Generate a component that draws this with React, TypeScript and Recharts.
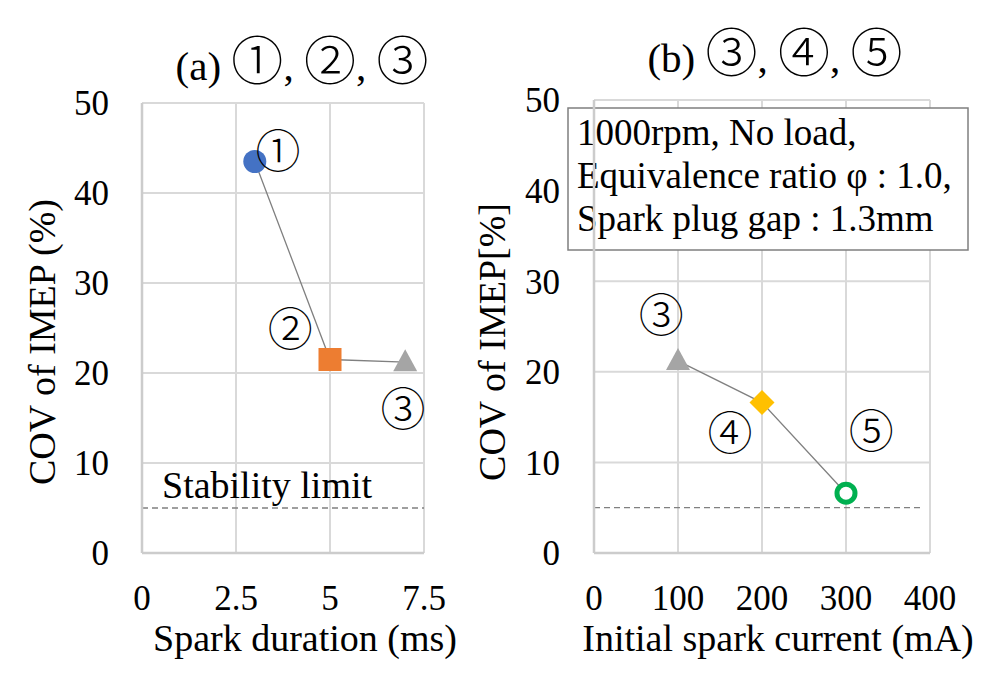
import { LineChart, Line, XAxis, YAxis, CartesianGrid, ReferenceLine, ReferenceDot, Customized } from 'recharts'

const SERIF = '"Liberation Serif", "Noto Sans CJK JP", serif'
const CIRCLED = '"Noto Sans CJK JP", "DejaVu Sans", sans-serif'

// (a) spark duration sweep: cases 1, 2, 3
const durationMs = [3, 5, 7]
const covA = [43.5, 21.5, 21.2]
const markersA = ['circle', 'square', 'triangle']
const xTicksA = [0, 2.5, 5, 7.5]
const tagsA = [
  { x: 3.62, y: 44.6, text: '①' },
  { x: 3.94, y: 24.8, text: '②' },
  { x: 6.94, y: 15.9, text: '③' },
]

// (b) initial spark current sweep: cases 3, 4, 5
const currentMa = [100, 200, 300]
const covB = [21.2, 16.6, 6.6]
const markersB = ['triangle', 'diamond', 'ring']
const xTicksB = [0, 100, 200, 300, 400]
const tagsB = [
  { x: 80, y: 26.2, text: '③' },
  { x: 162, y: 13.1, text: '④' },
  { x: 330, y: 13.4, text: '⑤' },
]

const yTicks = [0, 10, 20, 30, 40, 50]
const stabilityLimit = 5
const conditions = ['1000rpm, No load,', 'Equivalence ratio φ : 1.0,', 'Spark plug gap : 1.3mm']

const dataA = durationMs.map((x, i) => ({ x, cov: covA[i], marker: markersA[i] }))
const dataB = currentMa.map((x, i) => ({ x, cov: covB[i], marker: markersB[i] }))

const GRID = '#d9d9d9'
const tickStyle = { fill: '#000', fontSize: 35, fontFamily: SERIF }

function Marker({ cx, cy, kind }: { cx: number; cy: number; kind: string }) {
  if (cx == null || cy == null) return null
  switch (kind) {
    case 'circle':
      return <circle cx={cx} cy={cy} r={11.5} fill="#4472C4" />
    case 'square':
      return <rect x={cx - 11.5} y={cy - 11.5} width={23} height={23} fill="#ED7D31" />
    case 'triangle':
      return <polygon points={`${cx},${cy - 13} ${cx - 12},${cy + 9} ${cx + 12},${cy + 9}`} fill="#A5A5A5" />
    case 'diamond':
      return <polygon points={`${cx},${cy - 12.5} ${cx + 12.5},${cy} ${cx},${cy + 12.5} ${cx - 12.5},${cy}`} fill="#FFC000" />
    default:
      return <circle cx={cx} cy={cy} r={9} fill="#fff" stroke="#00B050" strokeWidth={5} />
  }
}

const renderDot = (props: any) => (
  <Marker key={`m-${props.index}`} cx={props.cx} cy={props.cy} kind={props.payload.marker} />
)

const stabilityLabel = (props: any) => {
  const vb = props.viewBox || {}
  return (
    <text x={vb.x + 20} y={vb.y - 10} fontSize={38} fontFamily={SERIF} fill="#000">
      Stability limit
    </text>
  )
}

function Title({ x, y, prefix, nums }: { x: number; y: number; prefix: string; nums: string[] }) {
  return (
    <text x={x} y={y} fontSize={41} textAnchor="middle" fontFamily={SERIF} fill="#000">
      {prefix}
      {nums.map((n, i) => (
        <tspan key={n}>
          <tspan fontFamily={CIRCLED} fontSize={52} fontWeight={300}>{n}</tspan>
          {i < nums.length - 1 ? ', ' : ''}
        </tspan>
      ))}
    </text>
  )
}

function Texts({ title, titleX, titleY, yTitle, yTitleX, xTitle, xTitleX, box }: any) {
  return (
    <g fontFamily={SERIF} fill="#000">
      <Title x={titleX} y={titleY} prefix={title.prefix} nums={title.nums} />
      <text
        x={yTitleX}
        y={342}
        fontSize={38}
        textAnchor="middle"
        dominantBaseline="central"
        transform={`rotate(-90, ${yTitleX}, 342)`}
      >
        {yTitle}
      </text>
      <text x={xTitleX} y={651} fontSize={38} textAnchor="middle">{xTitle}</text>
      {box && (
        <g>
          <rect x={108} y={108} width={400} height={142} fill="#fff" stroke="#7f7f7f" strokeWidth={1.5} />
          {conditions.map((line, i) => (
            <text key={line} x={117} y={145 + i * 43} fontSize={37}>{line}</text>
          ))}
        </g>
      )}
    </g>
  )
}

const tagLabel = (text: string) => ({
  value: text,
  position: 'center' as const,
  fontSize: 45,
  fontWeight: 300,
  fontFamily: CIRCLED,
  fill: '#000',
})

export default function App() {
  return (
    <div style={{ position: 'absolute', left: 0, top: 0, width: 1000, height: 675, background: '#fff' }}>
      <div style={{ position: 'absolute', left: 0, top: 0 }}>
        <LineChart width={470} height={675} data={dataA} margin={{ top: 103, right: 46, bottom: 0, left: 0 }}>
          <CartesianGrid stroke={GRID} strokeWidth={2} />
          <XAxis
            type="number"
            dataKey="x"
            domain={[0, 7.5]}
            ticks={xTicksA}
            height={122}
            tickSize={0}
            tickMargin={32}
            tickLine={false}
            axisLine={{ stroke: '#cccccc', strokeWidth: 2.5 }}
            tick={tickStyle}
          />
          <YAxis
            type="number"
            domain={[0, 50]}
            ticks={yTicks}
            width={142}
            tickSize={0}
            tickMargin={33}
            tickLine={false}
            axisLine={{ stroke: '#cccccc', strokeWidth: 2.5 }}
            tick={tickStyle}
          />
          <ReferenceLine y={stabilityLimit} stroke="#808080" strokeWidth={1.3} strokeDasharray="6 4" label={stabilityLabel} />
          <Line
            dataKey="cov"
            type="linear"
            stroke="#808080"
            strokeWidth={1.3}
            dot={renderDot}
            activeDot={false}
            isAnimationActive={false}
          />
          {tagsA.map((t) => (
            <ReferenceDot key={t.text} x={t.x} y={t.y} r={1} fill="none" stroke="none" label={tagLabel(t.text)} />
          ))}
          <Customized
            component={
              <Texts
                title={{ prefix: '(a) ', nums: ['①', '②', '③'] }}
                titleX={302}
                titleY={80}
                yTitle="COV of IMEP (%)"
                yTitleX={42}
                xTitle="Spark duration (ms)"
                xTitleX={305}
              />
            }
          />
        </LineChart>
      </div>
      <div style={{ position: 'absolute', left: 460, top: 0 }}>
        <LineChart width={540} height={675} data={dataB} margin={{ top: 100, right: 70, bottom: 0, left: 0 }}>
          <CartesianGrid stroke={GRID} strokeWidth={2} />
          <XAxis
            type="number"
            dataKey="x"
            domain={[0, 400]}
            ticks={xTicksB}
            height={122}
            tickSize={0}
            tickMargin={32}
            tickLine={false}
            axisLine={{ stroke: '#cccccc', strokeWidth: 2.5 }}
            tick={tickStyle}
          />
          <YAxis
            type="number"
            domain={[0, 50]}
            ticks={yTicks}
            width={134}
            tickSize={0}
            tickMargin={34}
            tickLine={false}
            axisLine={{ stroke: '#cccccc', strokeWidth: 2.5 }}
            tick={tickStyle}
          />
          <ReferenceLine
            segment={[{ x: 0, y: stabilityLimit }, { x: 392, y: stabilityLimit }]}
            stroke="#808080"
            strokeWidth={1.3}
            strokeDasharray="6 4"
          />
          <Line
            dataKey="cov"
            type="linear"
            stroke="#808080"
            strokeWidth={1.3}
            dot={renderDot}
            activeDot={false}
            isAnimationActive={false}
          />
          {tagsB.map((t) => (
            <ReferenceDot key={t.text} x={t.x} y={t.y} r={1} fill="none" stroke="none" label={tagLabel(t.text)} />
          ))}
          <Customized
            component={
              <Texts
                title={{ prefix: '(b) ', nums: ['③', '④', '⑤'] }}
                titleX={315}
                titleY={72}
                yTitle="COV of IMEP[%]"
                yTitleX={32}
                xTitle="Initial spark current (mA)"
                xTitleX={318}
                box
              />
            }
          />
        </LineChart>
      </div>
    </div>
  )
}
